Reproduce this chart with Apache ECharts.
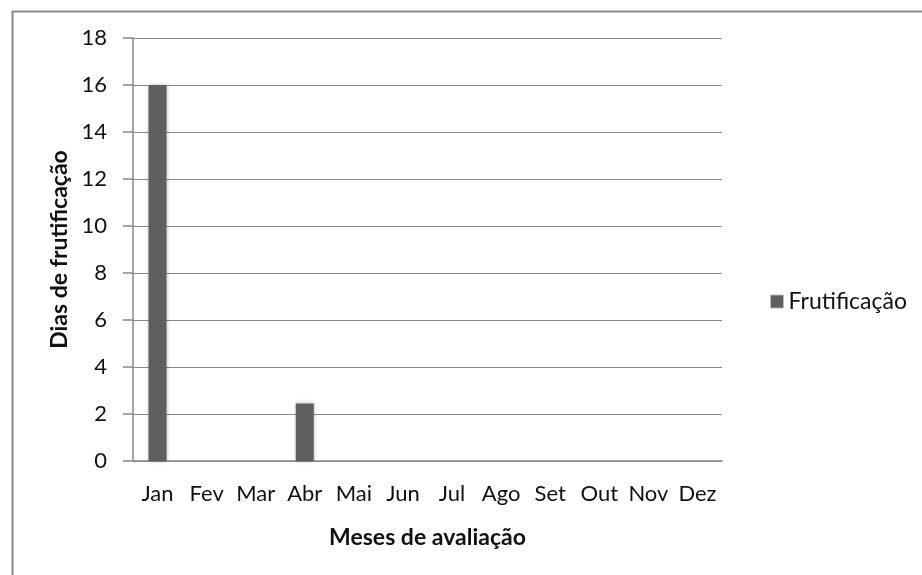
<!DOCTYPE html>
<html><head><meta charset="utf-8">
<script src="https://cdn.jsdelivr.net/npm/echarts@6/dist/echarts.min.js"></script>
<style>html,body{margin:0;padding:0;background:#fff}#c{width:922px;height:575px}</style>
</head><body><div id="c"></div>
<script>
const categories = ['Jan','Fev','Mar','Abr','Mai','Jun','Jul','Ago','Set','Out','Nov','Dez'];
const frutificacao = [16, 0, 0, 2.45, 0, 0, 0, 0, 0, 0, 0, 0];
const seriesName = 'Frutificação';
const yTitle = 'Dias de frutificação';
const xTitle = 'Meses de avaliação';

const FONT = 'Lato, "Open Sans", sans-serif';
const chart = echarts.init(document.getElementById('c'), null, {renderer:'canvas'});
chart.setOption({
  animation: false,
  backgroundColor: '#fff',
  graphic: [{
    type: 'rect', left: 10, top: 9, shape: {width: 950, height: 600},
    style: {fill: 'none', stroke: '#8a8a8a', lineWidth: 2}, silent: true
  }],
  grid: {left: 133, right: 200, top: 38, bottom: 114},
  legend: {
    left: 765, top: 285, orient: 'vertical',
    data: [seriesName], icon: 'rect', itemWidth: 13, itemHeight: 13, itemGap: 4,
    itemStyle: {borderColor: '#bbb', borderWidth: 1},
    textStyle: {fontFamily: FONT, fontSize: 23, color: '#111'}
  },
  xAxis: {
    type: 'category', data: categories,
    axisLine: {lineStyle: {color: '#888', width: 1.5}},
    axisTick: {show: false},
    axisLabel: {fontFamily: FONT, fontSize: 22, color: '#111', margin: 22, interval: 0},
    name: xTitle, nameLocation: 'middle', nameGap: 65,
    nameTextStyle: {fontFamily: FONT, fontSize: 23, fontWeight: 'bold', color: '#111'}
  },
  yAxis: {
    type: 'value', min: 0, max: 18, interval: 2,
    axisLine: {show: true, lineStyle: {color: '#888', width: 1.5}},
    axisTick: {show: true, length: 10, lineStyle: {color: '#888', width: 1.5}},
    splitLine: {lineStyle: {color: '#888', width: 1.2}},
    axisLabel: {fontFamily: FONT, fontSize: 22, color: '#111', margin: 26},
    name: yTitle, nameLocation: 'middle', nameGap: 60, nameRotate: 90,
    nameTextStyle: {fontFamily: FONT, fontSize: 23, fontWeight: 'bold', color: '#111'}
  },
  series: [{
    name: seriesName, type: 'bar', data: frutificacao, barWidth: 18,
    itemStyle: {color: '#5f5f5f', borderColor: '#f4f4f4', borderWidth: 0,
      shadowColor: 'rgba(0,0,0,0.25)', shadowBlur: 4}
  }]
});
</script></body></html>
